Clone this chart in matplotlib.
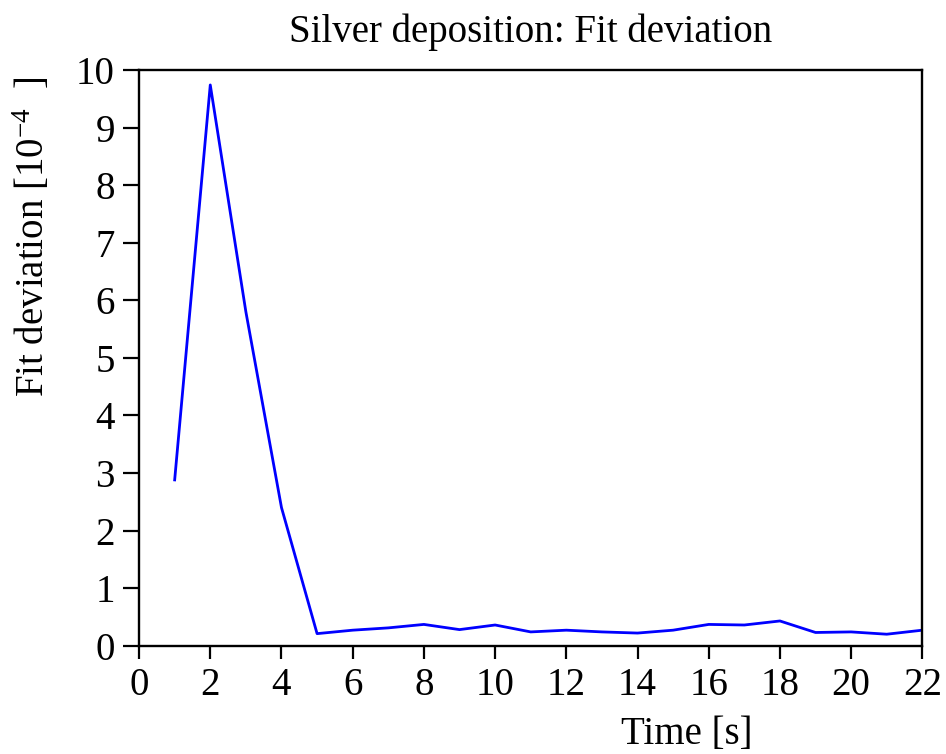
import matplotlib
matplotlib.use("Agg")
import matplotlib.pyplot as plt

# fit deviation per time step, in units of 1e-4
time_s = [1, 2, 3, 4, 5, 6, 7, 8, 9, 10, 11,
          12, 13, 14, 15, 16, 17, 18, 19, 20, 21, 22]
fit_dev = [2.88, 9.74, 5.8, 2.4, 0.21, 0.27, 0.31, 0.37, 0.28, 0.36, 0.24,
           0.27, 0.24, 0.22, 0.27, 0.37, 0.36, 0.43, 0.23, 0.24, 0.20, 0.27]
x_ticks = list(range(0, 23, 2))
y_ticks = list(range(0, 11))

plt.rcParams["font.family"] = ["Liberation Serif", "DejaVu Serif"]
plt.rcParams["mathtext.fontset"] = "custom"
plt.rcParams["mathtext.rm"] = "Liberation Serif"
plt.rcParams["mathtext.it"] = "Liberation Serif:italic"

fig = plt.figure(figsize=(9.46, 7.54), dpi=100)
ax = fig.add_axes([0.147, 0.1436, 0.828, 0.7636])

ax.plot(time_s, fit_dev, color="#0000ff", linewidth=2.0)

ax.set_xlim(0, 22)
ax.set_ylim(0, 10)
ax.set_xticks(x_ticks)
ax.set_yticks(y_ticks)
ax.tick_params(direction="out", width=1.6, labelsize=28,
               top=False, right=False)
ax.tick_params(axis="x", length=9, pad=6)
ax.tick_params(axis="y", length=11.5, pad=6)
for sp in ax.spines.values():
    sp.set_linewidth(1.7)

ax.set_title("Silver deposition: Fit deviation", fontsize=28, pad=20)
ax.set_xlabel("Time [s]", fontsize=28)
ax.set_ylabel(r"Fit deviation [10$\mathregular{^{-4}}$  ]", fontsize=28)
ax.xaxis.set_label_coords(0.699, -0.122)
ax.yaxis.set_label_coords(-0.11, 0.71)

fig.savefig("out.png", dpi=100)
